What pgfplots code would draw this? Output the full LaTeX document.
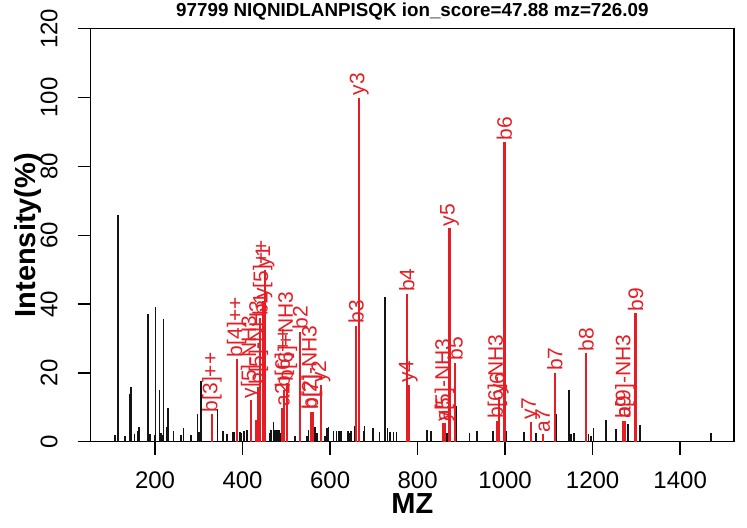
\documentclass[border=0pt]{standalone}
\usepackage{pgfplots}
\pgfplotsset{compat=1.18}
\usepackage{fontspec}
\setmainfont{Liberation Sans}
\definecolor{pkred}{RGB}{228,30,36}
\definecolor{pkblack}{RGB}{20,20,20}

% unmatched peaks: m/z, intensity (%)
\pgfplotstableread{
mz int
108 2
114.7 66
115.5 38
116.2 26
132 1.8
143 14
144.5 16
152.8 2.3
160 3.1
163.5 4.4
183.3 37
184.5 5
188.6 2.3
198.5 2
200.8 39
210.6 15
213.7 2.5
216 2
219 35.6
226.7 4.4
229.7 9.7
241.9 3.1
258.7 2
265.5 4.1
282.3 2
296.8 8
299.8 2.8
304.4 17.7
342.5 9.4
355.4 3.1
363.8 2.3
376.8 2.7
379.8 2.7
394.3 2.7
398 2.5
403.4 3
409.6 3.4
461.3 2.4
465.1 3.4
470.5 5.8
474.3 3.4
478.1 3.4
482.7 3.4
485.7 2.4
520 1.8
546.7 1.8
550.5 3.4
565.7 4.3
569.6 2.4
588.6 1.8
592.4 4.1
596.2 4.3
607.6 3
615 3.2
620 3.2
625 3.2
640.4 3
644 2.5
647.3 3
655.6 4.6
676.2 3
678.5 4.5
697.6 4.1
712.8 2.9
725 42
731 4
737 2.9
745 2.9
752 2.9
821 3.4
830.9 3
867.4 2.5
888 10.5
918.4 2.5
935.3 3
971.8 3
1000 43
1002 3
1042.7 2.7
1070.9 2.4
1116.6 8
1145.6 15
1147 6
1150.9 2.2
1157 2.4
1190.5 2.2
1196.6 1.8
1201.9 4.1
1230.9 6.3
1253.7 3.6
1280.4 5.1
1299 21.3
1308.6 5
1470 2.4
}\unmatched

% matched fragment ions: m/z, intensity (%), label
\pgfplotstableread{
mz int label
330.3 8 b[3]++
386.6 24 b[4]++
418.7 12 y[5]-NH3
430.1 6.3 {}
436.2 16 b[5]-NH3
440 36 b1
446.1 41 y[5]++
451.4 50 y1
491 9.7 a2
495.6 15 b[6]++
502.4 17 b[6]+NH3
531.4 32 b2
556.6 8.7 b[2]-NH3
560.4 8.7 b[7]
579.4 16.5 y2
659.4 33.7 b3
666.3 100 y3
775.3 42.9 b4
779 16.5 y4
858.7 5.3 a5
861.5 5.3 y[5]-NH3
872.8 62 y5
885.7 23 b5
982.4 6 b[6]-NH3
986.3 13 y6
998.5 87 b6
1058.7 5.8 y7
1086 2.1 a7
1113.5 20 b7
1185 25.7 b8
1270.5 6 a9
1274 6 b[9]-NH3
1297.9 37.3 b9
}\matched

\begin{document}
\begin{tikzpicture}
\useasboundingbox (-45.35pt,-42.65pt) rectangle (328.15pt,220.85pt);
\begin{axis}[
  at={(0,0)}, anchor=south west,
  scale only axis, width=321.65pt, height=206.5pt,
  xmin=53, xmax=1523, ymin=0, ymax=120,
  xtick={200,400,...,1400}, ytick={0,20,...,120},
  xtick pos=bottom, ytick pos=left,
  tick align=outside, major tick length=6.5pt,
  axis line style={line width=0.7pt},
  every tick/.style={line width=0.7pt, black},
  /pgf/number format/assume math mode=true,
  /pgf/number format/1000 sep={},
  tick label style={font=\fontsize{12}{12}\selectfont},
  xticklabel style={anchor=center, yshift=-12.65pt},
  yticklabel style={anchor=center, xshift=-14.35pt, rotate=90},
  xlabel={MZ}, ylabel={Intensity(\%)},
  every axis x label/.style={at={(axis description cs:0.5,0)}, anchor=center,
    yshift=-31pt, font=\bfseries\fontsize{14.5}{15}\selectfont},
  every axis y label/.style={at={(axis description cs:0,0.5)}, anchor=center,
    xshift=-31.35pt, rotate=90, font=\bfseries\fontsize{14.5}{15}\selectfont},
  title={97799 NIQNIDLANPISQK ion\_score=47.88 mz=726.09},
  every axis title/.style={at={(axis description cs:0.5,1)}, anchor=center,
    yshift=8.35pt, font=\bfseries\fontsize{9.4}{10}\selectfont},
  clip=false,
]
\addplot[ycomb, pkblack, line width=0.8pt] table[x=mz, y=int] {\unmatched};
\addplot[ycomb, pkred, line width=1.1pt,
  nodes near coords, point meta=explicit symbolic,
  every node near coord/.style={rotate=90, anchor=west, inner sep=0.5pt,
    text=pkred, font=\fontsize{10.5}{11}\selectfont}]
  table[x=mz, y=int, meta=label] {\matched};
\end{axis}
\end{tikzpicture}
\end{document}
